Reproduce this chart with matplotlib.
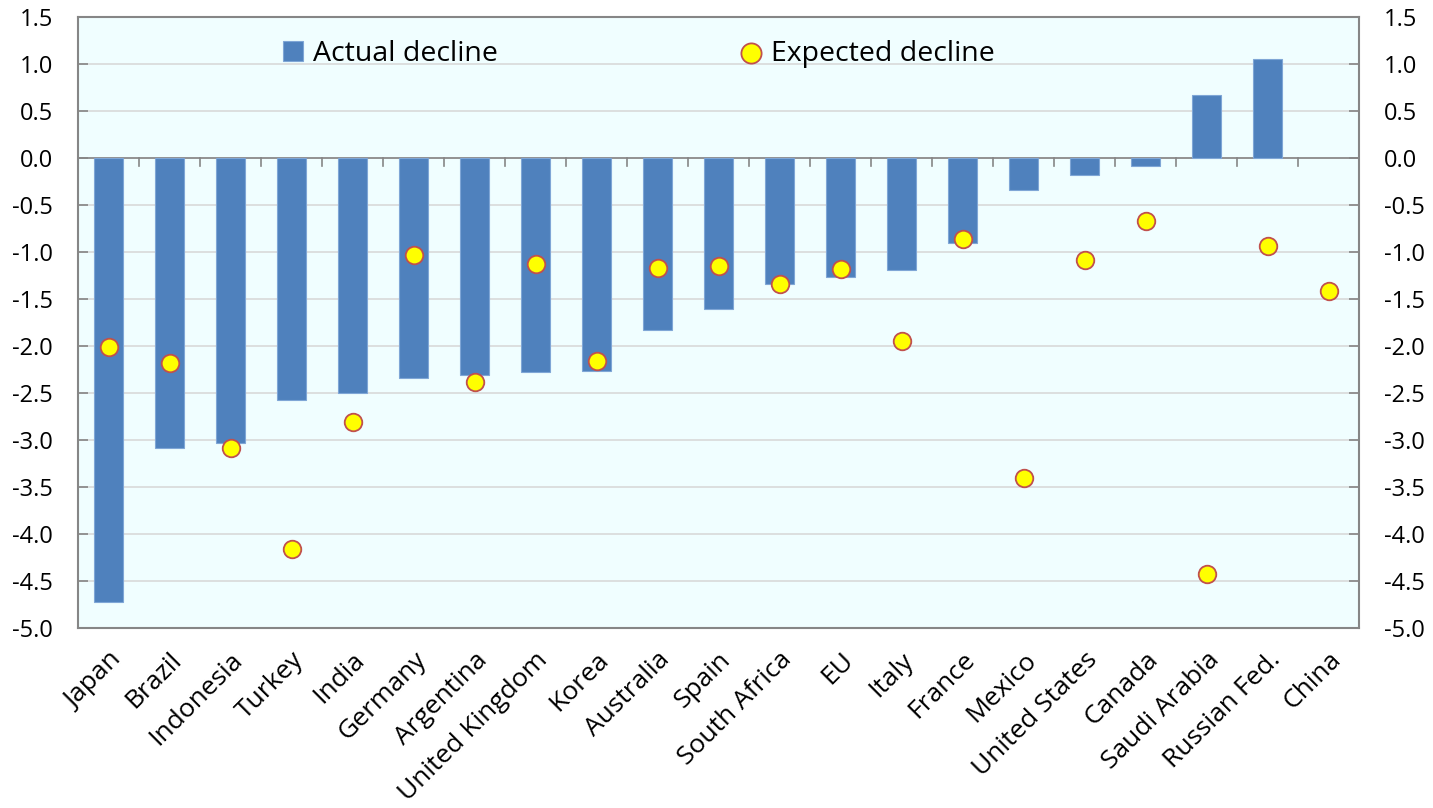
import numpy as np
import matplotlib.pyplot as plt

countries = ['Japan', 'Brazil', 'Indonesia', 'Turkey', 'India', 'Germany', 'Argentina',
             'United Kingdom', 'Korea', 'Australia', 'Spain', 'South Africa', 'EU', 'Italy',
             'France', 'Mexico', 'United States', 'Canada', 'Saudi Arabia', 'Russian Fed.', 'China']
actual = [-4.72, -3.09, -3.03, -2.57, -2.50, -2.34, -2.31, -2.28, -2.27, -1.83, -1.61,
          -1.34, -1.27, -1.19, -0.90, -0.34, -0.18, -0.09, 0.67, 1.05, np.nan]
expected = [-2.01, -2.18, -3.08, -4.16, -2.81, -1.03, -2.38, -1.13, -2.16, -1.17, -1.15,
            -1.34, -1.18, -1.95, -0.86, -3.40, -1.08, -0.67, -4.43, -0.94, -1.41]

plt.rcParams['font.family'] = ['Open Sans', 'DejaVu Sans']
fs = 17

fig = plt.figure(figsize=(14.33, 8.08), dpi=100)
ax = fig.add_axes([78/1433, 1-628/808, (1359-78)/1433, (628-17)/808])
ax.set_facecolor('#F0FEFF')

x = np.arange(len(countries))
bars = ax.bar(x, actual, width=0.49, color='#4F81BD', edgecolor='#7FA6D6', linewidth=0.8,
              label='Actual decline', zorder=3)
dots = ax.scatter(x, expected, s=160, facecolor='#FFFF00', edgecolor='#C0504D', linewidth=1.3,
                  label='Expected decline', zorder=4)

ax.set_xlim(-0.5, len(countries)-0.5)
ax.set_ylim(-5.0, 1.5)
yt = np.arange(-5.0, 1.51, 0.5)
ax.set_yticks(yt)
ax.set_yticklabels(['%.1f' % v for v in yt], fontsize=fs)
ax.yaxis.grid(True, color='#D9D9D9', linewidth=1.2, zorder=0)
ax.tick_params(axis='y', direction='in', length=7, color='#868686', width=1.2,
               left=True, right=True, labelleft=True, labelright=True, pad=18)

# category names as labels, tick marks at boundaries along zero line
ax.set_xticks(x)
ax.set_xticklabels(countries, rotation=45, ha='right', rotation_mode='anchor', fontsize=19)
ax.tick_params(axis='x', length=0, pad=14)
for b in np.arange(0.5, len(countries)-0.5, 1):
    ax.plot([b, b], [0, -0.08], color='#868686', lw=1.2, zorder=2)
ax.axhline(0, color='#868686', lw=1.2, zorder=2)

for s in ax.spines.values():
    s.set_color('#868686')
    s.set_linewidth(1.5)

ax.legend([bars, dots], ['Actual decline', 'Expected decline'],
          loc='upper center', bbox_to_anchor=(0.438, 1.005), ncol=2, frameon=False,
          fontsize=20.5, columnspacing=8.55, handlelength=0.7, handletextpad=0.35,
          markerscale=1.15)

fig.savefig('out.png', dpi=100)
